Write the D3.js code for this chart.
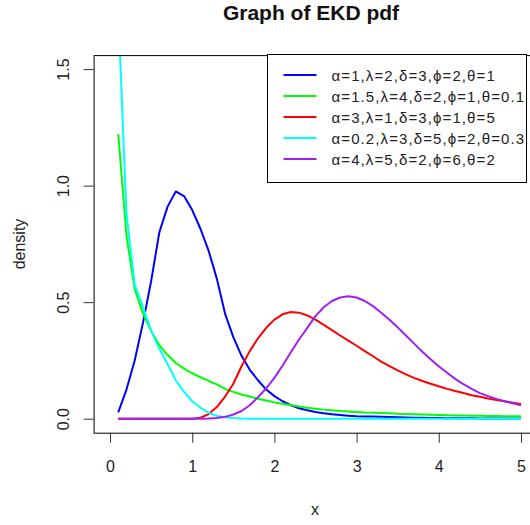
<!DOCTYPE html>
<html>
<head>
<meta charset="utf-8">
<script src="https://cdn.jsdelivr.net/npm/d3@7"></script>
<style>
  html, body { margin: 0; padding: 0; background: #fff; }
  svg { display: block; font-family: "Liberation Sans", Arial, sans-serif; }
</style>
</head>
<body>
<svg id="chart" width="530" height="525"></svg>
<script>
// Density values of five EKD parameterisations, sampled at x = 0.1, 0.2, ..., 5.0
const xs = d3.range(1, 51).map(i => i / 10);

const seriesLabels = [
  "α=1,λ=2,δ=3,ϕ=2,θ=1",
  "α=1.5,λ=4,δ=2,ϕ=1,θ=0.1",
  "α=3,λ=1,δ=3,ϕ=1,θ=5",
  "α=0.2,λ=3,δ=5,ϕ=2,θ=0.3",
  "α=4,λ=5,δ=2,ϕ=6,θ=2"
];
const seriesColors = ["#0000FF", "#00FF00", "#FF0000", "#00FFFF", "#A020F0"];

const blue = [
  0.027, 0.125, 0.25, 0.41, 0.59, 0.80, 0.91, 0.975, 0.955, 0.895,
  0.815, 0.72, 0.60, 0.45, 0.35, 0.27, 0.21, 0.165, 0.125, 0.097,
  0.075, 0.058, 0.045, 0.036, 0.029, 0.023, 0.019, 0.016, 0.013, 0.011,
  0.010, 0.009, 0.008, 0.007, 0.006, 0.005, 0.004, 0.004, 0.003, 0.003,
  0.002, 0.002, 0.002, 0.002, 0.001, 0.001, 0.001, 0.001, 0.001, 0.001
];
const green = [
  1.221, 0.785, 0.556, 0.453, 0.376, 0.316, 0.273, 0.239, 0.215, 0.195,
  0.178, 0.162, 0.147, 0.128, 0.115, 0.104, 0.095, 0.086, 0.078, 0.070,
  0.064, 0.058, 0.052, 0.047, 0.043, 0.039, 0.036, 0.033, 0.031, 0.029,
  0.027, 0.026, 0.024, 0.023, 0.021, 0.020, 0.019, 0.018, 0.017, 0.016,
  0.015, 0.014, 0.014, 0.013, 0.013, 0.012, 0.012, 0.011, 0.011, 0.011
];
const red = [
  0, 0, 0, 0, 0, 0, 0, 0, 0, 0,
  0.004, 0.02, 0.05, 0.095, 0.15, 0.225, 0.29, 0.345, 0.39, 0.425,
  0.448, 0.458, 0.455, 0.443, 0.425, 0.403, 0.38, 0.357, 0.335, 0.313,
  0.29, 0.268, 0.245, 0.226, 0.207, 0.19, 0.175, 0.162, 0.15, 0.139,
  0.128, 0.119, 0.110, 0.101, 0.094, 0.087, 0.080, 0.075, 0.069, 0.063
];
const cyan = [
  1.75, 0.88, 0.575, 0.48, 0.378, 0.30, 0.235, 0.165, 0.115, 0.075,
  0.047, 0.025, 0.012, 0.006, 0.003, 0.001, 0, 0, 0, 0,
  0, 0, 0, 0, 0, 0, 0, 0, 0, 0,
  0, 0, 0, 0, 0, 0, 0, 0, 0, 0,
  0, 0, 0, 0, 0, 0, 0, 0, 0, 0
];
const purple = [
  0, 0, 0, 0, 0, 0, 0, 0, 0, 0,
  0, 0.001, 0.003, 0.008, 0.018, 0.033, 0.058, 0.092, 0.13, 0.175,
  0.228, 0.285, 0.34, 0.39, 0.44, 0.478, 0.505, 0.52, 0.525, 0.52,
  0.505, 0.483, 0.455, 0.425, 0.392, 0.357, 0.322, 0.287, 0.255, 0.225,
  0.197, 0.171, 0.148, 0.128, 0.11, 0.097, 0.085, 0.075, 0.066, 0.058
];
const seriesValues = [blue, green, red, cyan, purple];

const xTicks = [0, 1, 2, 3, 4, 5];
const yTicks = [0.0, 0.5, 1.0, 1.5];

const svg = d3.select("#chart");

// Plot region (x extended 4% past 0..5, y extended 4% past 0..1.5)
const x = d3.scaleLinear().domain([-0.2, 5.2]).range([93.6, 537.4]);
const y = d3.scaleLinear().domain([-0.06, 1.56]).range([432.7, 55.1]);

svg.append("defs").append("clipPath").attr("id", "plotClip")
  .append("rect")
  .attr("x", x(-0.2)).attr("y", y(1.56))
  .attr("width", x(5.2) - x(-0.2)).attr("height", y(-0.06) - y(1.56));

// Curves
const line = d3.line().x(d => x(d[0])).y(d => y(d[1]));
const curves = svg.append("g").attr("clip-path", "url(#plotClip)");
seriesValues.forEach((vals, i) => {
  curves.append("path")
    .datum(xs.map((xv, j) => [xv, vals[j]]))
    .attr("fill", "none")
    .attr("stroke", seriesColors[i])
    .attr("stroke-width", 2)
    .attr("stroke-linejoin", "round")
    .attr("d", line);
});

// Plot frame
svg.append("rect")
  .attr("x", x(-0.2) + 0.5).attr("y", y(1.56) + 0.5)
  .attr("width", x(5.2) - x(-0.2)).attr("height", y(-0.06) - y(1.56))
  .attr("fill", "none").attr("stroke", "#000").attr("stroke-width", 1);

// Bottom axis
const xAxis = svg.append("g")
  .attr("transform", `translate(0,${y(-0.06)})`)
  .call(d3.axisBottom(x).tickValues(xTicks).tickFormat(d3.format("d")).tickSize(10).tickSizeOuter(0));
xAxis.select(".domain").remove();
xAxis.selectAll("line").attr("stroke", "#333");
xAxis.selectAll("text")
  .attr("y", 39).attr("dy", null)
  .attr("font-size", 16).attr("fill", "#222")
  .attr("font-family", "Liberation Sans, Arial, sans-serif");

// Left axis, labels rotated as in base graphics
const yAxis = svg.append("g")
  .attr("transform", `translate(${x(-0.2)},0)`)
  .call(d3.axisLeft(y).tickValues(yTicks).tickFormat(d3.format(".1f")).tickSize(10).tickSizeOuter(0));
yAxis.select(".domain").remove();
yAxis.selectAll("line").attr("stroke", "#333");
yAxis.selectAll("text")
  .attr("x", null).attr("dy", null)
  .attr("text-anchor", "middle")
  .attr("transform", "translate(-25,0) rotate(-90)")
  .attr("font-size", 16).attr("fill", "#222")
  .attr("font-family", "Liberation Sans, Arial, sans-serif");

// Titles
svg.append("text")
  .attr("x", 311).attr("y", 19.5)
  .attr("text-anchor", "middle")
  .attr("font-size", 21).attr("font-weight", "bold").attr("fill", "#111")
  .text("Graph of EKD pdf");

svg.append("text")
  .attr("x", 315).attr("y", 515)
  .attr("text-anchor", "middle")
  .attr("font-size", 16).attr("fill", "#222")
  .text("x");

svg.append("text")
  .attr("transform", "translate(25,244) rotate(-90)")
  .attr("text-anchor", "middle")
  .attr("font-size", 16).attr("fill", "#222")
  .text("density");

// Legend
const legend = svg.append("g");
legend.append("rect")
  .attr("x", 267.5).attr("y", 54.5)
  .attr("width", 259).attr("height", 128)
  .attr("fill", "#fff").attr("stroke", "#000").attr("stroke-width", 1);
seriesLabels.forEach((lab, i) => {
  const cy = 75 + i * 21;
  legend.append("line")
    .attr("x1", 283.5).attr("x2", 316.5)
    .attr("y1", cy).attr("y2", cy)
    .attr("stroke", seriesColors[i]).attr("stroke-width", 2);
  legend.append("text")
    .attr("x", 331.5).attr("y", cy + 5.5)
    .attr("font-size", 15).attr("letter-spacing", 1.1).attr("fill", "#222")
    .text(lab);
});
</script>
</body>
</html>
